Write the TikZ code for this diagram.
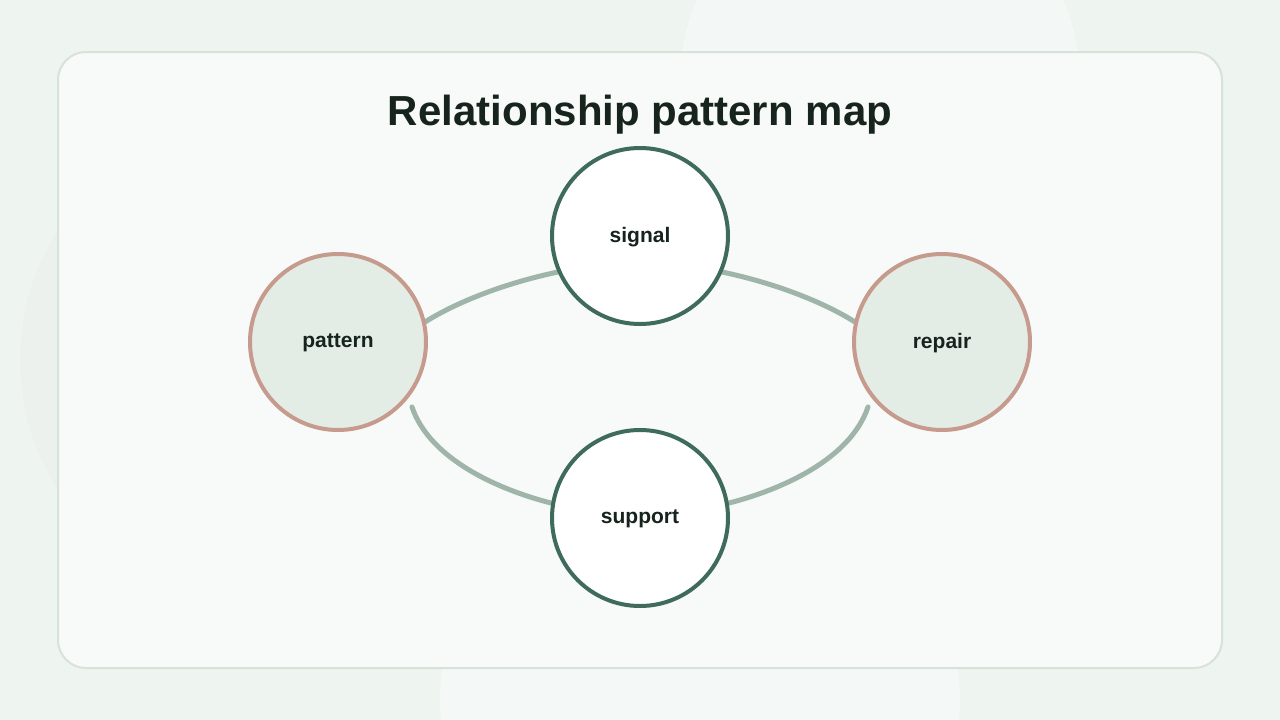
\documentclass[tikz,border=0pt]{standalone}
\usepackage{fontspec}
\usetikzlibrary{calc}
\setmainfont{Liberation Sans}
\definecolor{bg}{HTML}{EEF4F0}
\definecolor{cardb}{HTML}{D6E2DA}
\definecolor{edge}{HTML}{9FB5AA}
\definecolor{dk}{HTML}{3F6B5A}
\definecolor{rose}{HTML}{C69A8C}
\definecolor{soft}{HTML}{E3EDE6}
\definecolor{txt}{HTML}{16241D}
\begin{document}
\begin{tikzpicture}[x=1pt,y=-1pt,
  node/.style={circle,minimum size=176pt,line width=4pt,font=\bfseries\fontsize{21}{24}\selectfont,text=txt,text depth=2pt},
  main/.style={node,draw=dk,fill=white},
  side/.style={node,draw=rose,fill=soft},
  link/.style={draw=edge,line width=5pt,line cap=round}]
\fill[bg] (0,0) rectangle (1280,720);
\useasboundingbox (0,0) rectangle (1280,720);
\fill[white,opacity=0.35] (880,80) circle (200);
\fill[black!8,opacity=0.3] (260,360) circle (240);
\fill[white,opacity=0.4] (700,700) circle (260);
\draw[cardb,line width=2pt,fill=white!55!bg,rounded corners=28pt] (58,52) rectangle (1222,668);
\node[font=\bfseries\fontsize{42}{48}\selectfont,text=txt] (t) at (640,115) {Relationship pattern map};
\coordinate (pc) at (338,342);
\coordinate (sc) at (640,236);
\coordinate (rc) at (942,342);
\coordinate (uc) at (640,518);
\draw[link] ($(pc)+(87,-20)$) .. controls (460,300) and (510,282) .. ($(sc)+(-82,36)$);
\draw[link] ($(rc)+(-87,-20)$) .. controls (820,300) and (770,282) .. ($(sc)+(82,36)$);
\draw[link] ($(pc)+(74,65)$) .. controls (430,460) and (500,490) .. ($(uc)+(-89,-15)$);
\draw[link] ($(rc)+(-74,65)$) .. controls (850,460) and (780,490) .. ($(uc)+(89,-15)$);
\node[side] (pattern) at (pc) {pattern};
\node[side] (repair) at (rc) {repair};
\node[main] (signal) at (sc) {signal};
\node[main] (support) at (uc) {support};
\end{tikzpicture}
\end{document}
